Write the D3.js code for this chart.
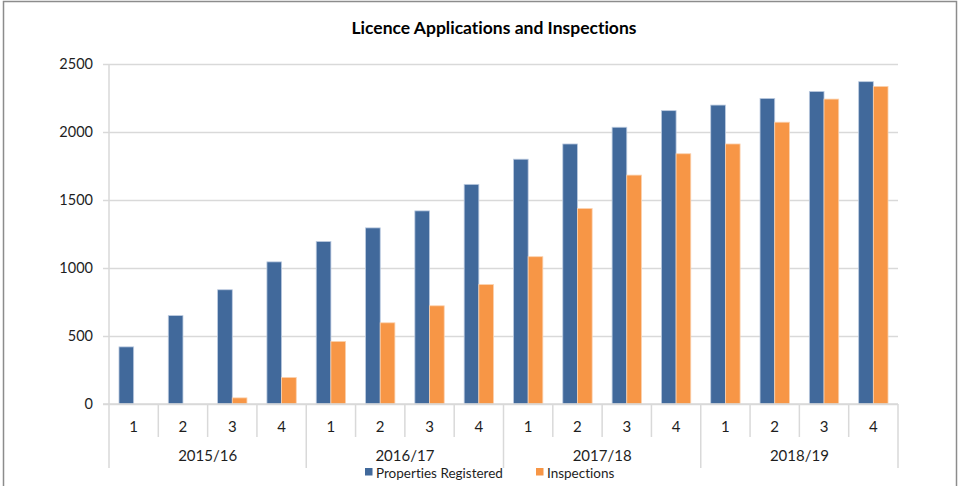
<!DOCTYPE html>
<html><head><meta charset="utf-8">
<script src="https://cdn.jsdelivr.net/npm/d3@7"></script>
<style>body{margin:0;background:#fff}svg{display:block}text{font-family:Lato,"Open Sans",sans-serif;fill:#1e1e1e;font-variant-ligatures:none}</style>
</head><body><svg id="c" width="960" height="486"></svg>
<script>
const years = ["2015/16","2016/17","2017/18","2018/19"];
const quarters = ["1","2","3","4"];
const seriesNames = ["Properties Registered","Inspections"];
const registered = [420,650,840,1045, 1195,1295,1420,1615, 1800,1912,2035,2157, 2198,2247,2298,2370];
const inspections = [0,0,45,195, 460,597,722,878, 1083,1437,1683,1840, 1912,2072,2242,2335];
const yTicks = [0,500,1000,1500,2000,2500];
const colors = ["#41699b","#f79646"];

const svg = d3.select("#c");
const L = 109, R = 898, T = 64, B = 404;
svg.append("rect").attr("x",3.5).attr("y",1.5).attr("width",953).attr("height",500)
  .attr("fill","none").attr("stroke","#8c8c8c").attr("stroke-width",1.5);

svg.append("text").attr("x",494).attr("y",34).attr("text-anchor","middle")
  .style("font-weight","bold").style("font-size","17.5px").style("fill","#000")
  .text("Licence Applications and Inspections");

const cats = [];
years.forEach((y,i)=>quarters.forEach((q,j)=>cats.push({year:y,q:q,idx:i*4+j})));
const x = d3.scaleBand().domain(cats.map(d=>d.idx)).range([L,R]).padding(0);
const y = d3.scaleLinear().domain([0,2500]).range([B,T]);
const inner = d3.scaleBand().domain([0,1]).range([0,x.bandwidth()]).paddingOuter(0.68).paddingInner(0);

// gridlines + y axis labels
const yAxis = d3.axisLeft(y).tickValues(yTicks).tickSize(-(R-L)-6).tickPadding(10).tickFormat(d3.format("d"));
const gy = svg.append("g").attr("transform",`translate(${L},0)`).call(yAxis);
gy.select(".domain").remove();
gy.selectAll(".tick line").attr("x1",-6).attr("x2",R-L).attr("stroke","#d9d9d9").attr("stroke-width",1.5);
gy.selectAll(".tick text").style("font-size","14.5px").attr("fill","#1e1e1e").attr("x",-16).attr("font-family",null);

// bars
const data = cats.map((c,i)=>({c, vals:[registered[i],inspections[i]]}));
const g = svg.append("g");
data.forEach(d=>{
  d.vals.forEach((v,k)=>{
    if(v<=0) return;
    g.append("rect").attr("x",x(d.c.idx)+inner(k)).attr("y",y(v))
      .attr("width",inner.bandwidth()).attr("height",B-y(v))
      .attr("fill",colors[k]).attr("stroke",k===0?"#bccbe0":"#fbd1ae").attr("stroke-width",0.8);
  });
});

// axes lines
svg.append("line").attr("x1",L).attr("x2",L).attr("y1",T).attr("y2",468).attr("stroke","#d9d9d9").attr("stroke-width",1.5);
svg.append("line").attr("x1",L-6).attr("x2",R).attr("y1",B).attr("y2",B).attr("stroke","#d9d9d9").attr("stroke-width",1.5);

// quarter dividers & labels
cats.forEach(c=>{
  const x0 = x(c.idx)+x.bandwidth();
  const isYear = (c.idx%4)===3;
  svg.append("line").attr("x1",x0).attr("x2",x0).attr("y1",B).attr("y2",isYear?468:437)
    .attr("stroke","#d9d9d9").attr("stroke-width",1.5);
  svg.append("text").attr("x",x(c.idx)+x.bandwidth()/2).attr("y",432).attr("text-anchor","middle")
    .style("font-size","15px").text(c.q);
});
years.forEach((yr,i)=>{
  const x0 = x(i*4), x1 = x(i*4+3)+x.bandwidth();
  svg.append("text").attr("x",(x0+x1)/2).attr("y",461).attr("text-anchor","middle")
    .style("font-size","15px").text(yr);
});

// legend
const leg = [{x:365},{x:536}];
seriesNames.forEach((n,k)=>{
  svg.append("rect").attr("x",leg[k].x).attr("y",468).attr("width",7.5).attr("height",7.5).attr("fill",colors[k]);
  svg.append("text").attr("x",leg[k].x+11).attr("y",477.5).style("font-size","13.5px").text(n);
});
</script></body></html>
